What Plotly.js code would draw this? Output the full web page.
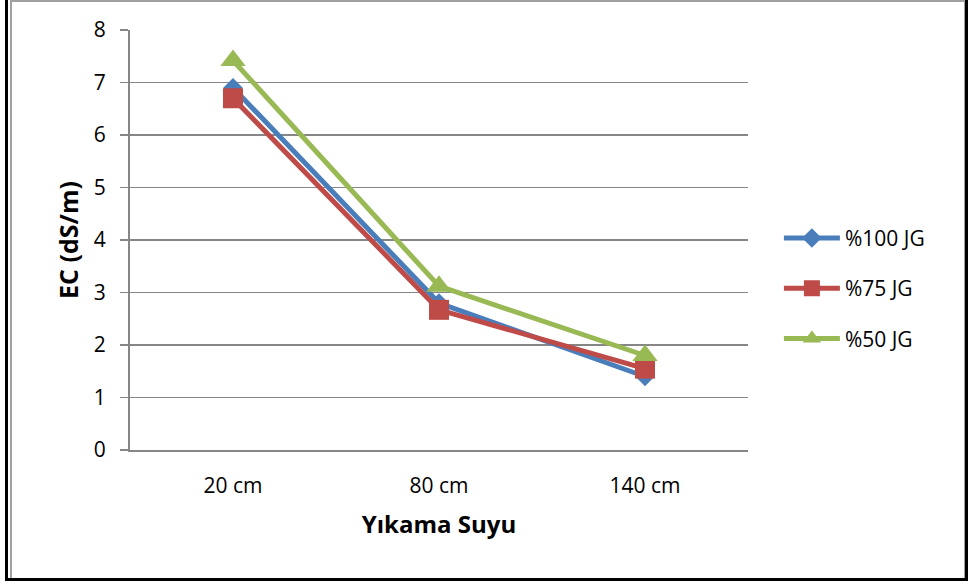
<!DOCTYPE html>
<html>
<head>
<meta charset="utf-8">
<script src="https://cdn.plot.ly/plotly-3.0.1.min.js"></script>
<style>
  html, body { margin:0; padding:0; background:#fff; }
  #wrap { position:relative; width:968px; height:581px; overflow:hidden; }
  #chart { position:absolute; left:0; top:0; width:968px; height:581px; }
  .b { position:absolute; pointer-events:none; }
</style>
</head>
<body>
<div id="wrap">
  <div id="chart"></div>
  <div class="b" style="left:10px;top:0;width:952px;height:576px;border:2px solid #a0a0a0;"></div>
  <div class="b" style="left:5px;top:0;width:3px;height:581px;background:#000;"></div>
  <div class="b" style="left:965px;top:0;width:3px;height:581px;background:#000;"></div>
  <div class="b" style="left:5px;top:578px;width:963px;height:3px;background:#000;"></div>
</div>
<script>
const categories = ["20 cm", "80 cm", "140 cm"];
const jg100 = [6.9, 2.8, 1.4];
const jg75 = [6.7, 2.67, 1.55];
const jg50 = [7.42, 3.12, 1.8];
const seriesNames = ["%100 JG", "%75 JG", "%50 JG"];
const yTicks = [0, 1, 2, 3, 4, 5, 6, 7, 8];

const FONT = "'Open Sans', 'Noto Sans', sans-serif";

function trace(name, y, color, symbol, size, group) {
  return {
    type: "scatter", mode: "lines+markers", name: name,
    legendgroup: group,
    x: categories, y: y,
    line: {color: color, width: 5},
    marker: {color: color, symbol: symbol, size: size, line: {width: 0}}
  };
}

const data = [
  trace(seriesNames[0], jg100, "#4A7EBB", "diamond", 15, "g1"),
  trace(seriesNames[1], jg75, "#BE4B48", "square", 20, "g2"),
  trace(seriesNames[2], jg50, "#98B954", "triangle-up", 22, "g3")
];

const layout = {
  width: 968, height: 581,
  margin: {l: 130, r: 220, t: 30, b: 131},
  paper_bgcolor: "#fff", plot_bgcolor: "#fff",
  font: {family: FONT, size: 20, color: "#000"},
  showlegend: true,
  legend: {
    x: 1.05, y: 0.385, xanchor: "left", yanchor: "middle",
    font: {family: FONT, size: 21, color: "#000"},
    tracegroupgap: 20, itemwidth: 56,
    bgcolor: "rgba(0,0,0,0)"
  },
  xaxis: {
    type: "category",
    range: [-0.5, 2.5],
    showgrid: false, zeroline: false,
    showline: true, linecolor: "#868686", linewidth: 2,
    ticks: "", ticklabelstandoff: 16,
    tickfont: {family: FONT, size: 21, color: "#000"},
    title: {text: "<b>Yıkama Suyu</b>", font: {family: FONT, size: 24, color: "#000"}, standoff: 18},
    fixedrange: true
  },
  yaxis: {
    range: [0, 8],
    tickvals: yTicks, ticktext: yTicks.map(String),
    showgrid: true, gridcolor: "#868686", gridwidth: 1.5,
    zeroline: false,
    showline: true, linecolor: "#868686", linewidth: 2,
    ticks: "outside", ticklen: 8, tickcolor: "#868686", tickwidth: 1.5,
    ticklabelstandoff: 10,
    tickfont: {family: FONT, size: 21, color: "#000"},
    title: {text: "<b>EC (dS/m)</b>", font: {family: FONT, size: 25, color: "#000"}, standoff: 8},
    fixedrange: true
  }
};

Plotly.newPlot("chart", data, layout, {displayModeBar: false, staticPlot: true});
</script>
</body>
</html>
